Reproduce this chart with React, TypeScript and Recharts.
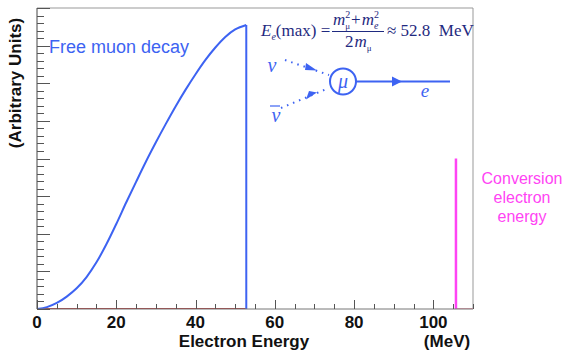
import React from 'react';
import { ComposedChart, Line, XAxis, YAxis, ReferenceLine } from 'recharts';

// Michel spectrum (MeV, arbitrary units)
const energy = [0, 2.5, 5, 7.5, 10, 12.5, 15, 17.5, 20, 22.5, 25, 27.5, 30, 32.5, 35, 37.5, 40, 42.5, 45, 47.5, 50, 52.8];
const spectrum = [0, 0.05, 0.16, 0.33, 0.55, 0.85, 1.24, 1.72, 2.26, 2.83, 3.38, 3.92, 4.43, 4.92, 5.39, 5.83, 6.24, 6.62, 6.95, 7.23, 7.43, 7.55];

const endpoint = 52.8;
const endpointHeight = 7.55;
const conversionEnergy = 105.7;
const conversionHeight = 4;
const xMax = 110;
const yMax = 8;

const xTicks = [0, 5, 10, 15, 20, 25, 30, 35, 40, 45, 50, 55, 60, 65, 70, 75, 80, 85, 90, 95, 100, 105, 110];
const yTicks = [
  0, 0.2, 0.4, 0.6, 0.8, 1, 1.2, 1.4, 1.6, 1.8, 2, 2.2, 2.4, 2.6, 2.8, 3, 3.2, 3.4, 3.6, 3.8, 4,
  4.2, 4.4, 4.6, 4.8, 5, 5.2, 5.4, 5.6, 5.8, 6, 6.2, 6.4, 6.6, 6.8, 7, 7.2, 7.4, 7.6, 7.8, 8,
];

const curveData = energy.map((e, i) => ({ e, v: spectrum[i] }));
const dropData = [{ e: endpoint, v: endpointHeight }, { e: endpoint, v: 0 }];
const baseData = [{ e: 0, v: 0 }, { e: endpoint, v: 0 }];
const convData = [{ e: conversionEnergy, v: 0 }, { e: conversionEnergy, v: conversionHeight }];
const convBase = [{ e: conversionEnergy, v: 0 }, { e: xMax, v: 0 }];

const BLUE = '#3d63f2';
const MAGENTA = '#ff44f4';
const SANS = '"Liberation Sans", Arial, Helvetica, sans-serif';
const SERIF = '"Liberation Serif", "Times New Roman", serif';

// ticks point inward, like the original plot
const XTick = (props: any) => {
  const { x, y, payload } = props;
  const major = payload.value % 20 === 0;
  return (
    <g>
      <path d={`M${Math.round(x) + 0.5},${y}V${y - (major ? 9 : 5)}`} stroke="#555" strokeWidth={1} fill="none" />
      {major && payload.value <= 100 && (
        <text x={x} y={y + 19} textAnchor="middle" fontFamily={SANS} fontWeight="bold" fontSize={17} fill="#111">
          {payload.value}
        </text>
      )}
    </g>
  );
};

const YTick = (props: any) => {
  const { x, y, payload } = props;
  const major = Math.abs(payload.value - Math.round(payload.value)) < 1e-6;
  return <path d={`M${x},${Math.round(y) + 0.5}H${x + (major ? 13 : 7)}`} stroke="#555" strokeWidth={1} fill="none" />;
};

const Annotations = () => (
  <svg width={566} height={350} style={{ position: 'absolute', left: 0, top: 0, pointerEvents: 'none' }}>
    <text x={15} y={83} transform="rotate(-90 15 83)" textAnchor="middle" dominantBaseline="central"
      fontFamily={SANS} fontWeight="bold" fontSize={17} fill="#111">(Arbitrary Units)</text>
    <text x={244} y={347} textAnchor="middle" fontFamily={SANS} fontWeight="bold" fontSize={17} fill="#111">Electron Energy</text>
    <text x={447} y={347} textAnchor="middle" fontFamily={SANS} fontWeight="bold" fontSize={17} fill="#111">(MeV)</text>

    <text x={49} y={53} fontFamily={SANS} fontSize={18} fill={BLUE}>Free muon decay</text>

    <g fontFamily={SANS} fontSize={16} fill={MAGENTA} textAnchor="middle">
      <text x={522} y={184}>Conversion</text>
      <text x={522} y={203}>electron</text>
      <text x={522} y={222}>energy</text>
    </g>

    {/* E_e(max) formula */}
    <g fontFamily={SERIF} fontSize={17} fill="#1f2a80">
      <text x={261} y={36}>
        <tspan fontStyle="italic">E</tspan>
        <tspan fontSize={10} dy={4} fontStyle="italic">e</tspan>
        <tspan dy={-4}>(max) =</tspan>
      </text>
      <text x={333} y={25}>
        <tspan fontStyle="italic">m</tspan>
        <tspan fontSize={10} dy={-7}>2</tspan>
        <tspan fontSize={9} dx={-5} dy={11}>μ</tspan>
        <tspan dx={1} dy={-4}>+</tspan>
        <tspan dx={1} fontStyle="italic">m</tspan>
        <tspan fontSize={10} dy={-7}>2</tspan>
        <tspan fontSize={10} dx={-5} dy={11} fontStyle="italic">e</tspan>
      </text>
      <line x1={332} x2={384} y1={31.5} y2={31.5} stroke="#1f2a80" strokeWidth={1} />
      <text x={345} y={47}>
        <tspan>2</tspan>
        <tspan dx={1} fontStyle="italic">m</tspan>
        <tspan fontSize={9} dy={4}>μ</tspan>
      </text>
      <text x={387} y={36}>{'≈ 52.8\u00a0\u00a0MeV'}</text>
    </g>

    {/* muon decay diagram */}
    <g stroke={BLUE} fill="none">
      <circle cx={343} cy={81.5} r={13} strokeWidth={2} />
      <line x1={356} x2={450} y1={81.5} y2={81.5} strokeWidth={2} />
      <line x1={285} y1={60} x2={329} y2={75} strokeWidth={2} strokeDasharray="1.5 5" />
      <line x1={281} y1={108} x2={329} y2={88} strokeWidth={2} strokeDasharray="1.5 5" />
    </g>
    <g fill={BLUE}>
      <polygon points="392,76.5 402,81.5 392,86.5" />
      <polygon points="306,63 317,70.5 305,70" />
      <polygon points="306,99.5 317,92.5 309,91" />
    </g>
    <g fontFamily={SERIF} fontStyle="italic" fill={BLUE}>
      <text x={343} y={88} textAnchor="middle" fontSize={20}>μ</text>
      <text x={425} y={97} textAnchor="middle" fontSize={19}>e</text>
      <text x={272} y={72} textAnchor="middle" fontSize={20}>ν</text>
      <text x={276} y={122} textAnchor="middle" fontSize={20}>ν</text>
    </g>
    <line x1={270} x2={280} y1={106} y2={106} stroke={BLUE} strokeWidth={1.2} />
  </svg>
);

export default function App() {
  return (
    <div style={{ position: 'absolute', left: 0, top: 0, width: 566, height: 350, background: '#fff' }}>
      <ComposedChart width={566} height={350} margin={{ top: 8, right: 93, bottom: 0, left: 0 }}>
        <XAxis
          type="number"
          dataKey="e"
          domain={[0, xMax]}
          ticks={xTicks}
          interval={0}
          height={41}
          tickSize={0}
          tickMargin={0}
          tickLine={false}
          axisLine={{ stroke: '#777' }}
          tick={<XTick />}
          allowDataOverflow
        />
        <YAxis
          type="number"
          dataKey="v"
          domain={[0, yMax]}
          ticks={yTicks}
          interval={0}
          width={37}
          tickSize={0}
          tickMargin={0}
          tickLine={false}
          axisLine={{ stroke: '#444' }}
          tick={<YTick />}
          allowDataOverflow
        />
        <ReferenceLine y={yMax} stroke="#999" ifOverflow="visible" />
        <ReferenceLine x={xMax} stroke="#999" ifOverflow="visible" />
        <Line data={baseData} dataKey="v" type="linear" stroke="#b23a3a" strokeWidth={2} dot={false} isAnimationActive={false} />
        <Line data={convBase} dataKey="v" type="linear" stroke="#e8a0b0" strokeWidth={2} dot={false} isAnimationActive={false} />
        <Line data={curveData} dataKey="v" type="monotone" stroke={BLUE} strokeWidth={2} dot={false} isAnimationActive={false} />
        <Line data={dropData} dataKey="v" type="linear" stroke={BLUE} strokeWidth={2} dot={false} isAnimationActive={false} />
        <Line data={convData} dataKey="v" type="linear" stroke={MAGENTA} strokeWidth={2.5} dot={false} isAnimationActive={false} />
      </ComposedChart>
      <Annotations />
    </div>
  );
}
